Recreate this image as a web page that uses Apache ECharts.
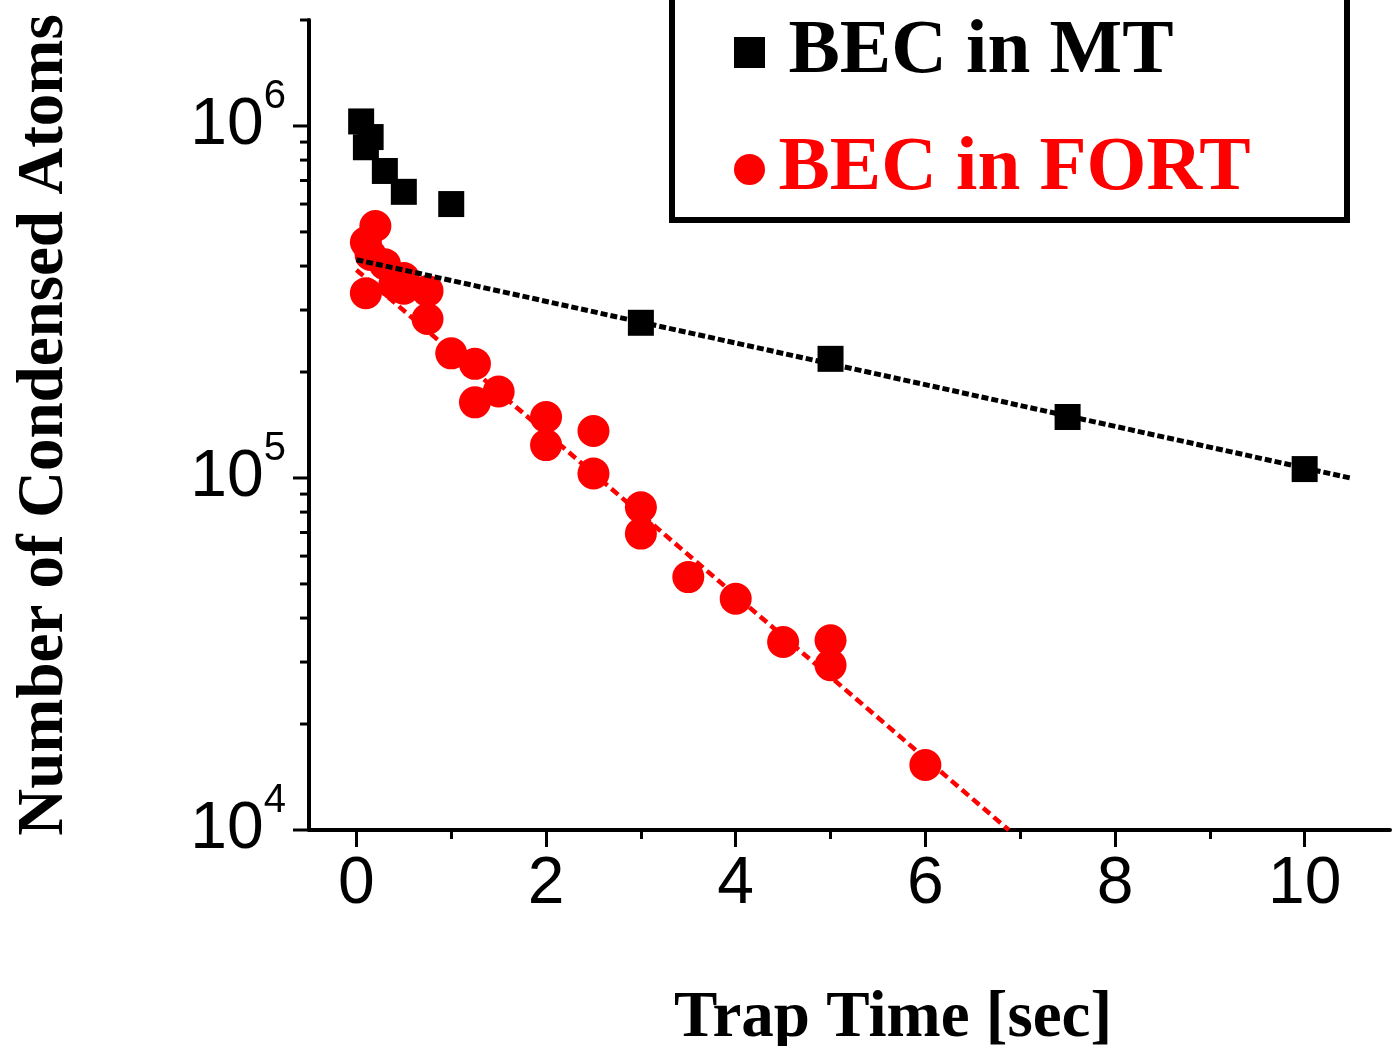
<!DOCTYPE html>
<html>
<head>
<meta charset="utf-8">
<title>Condensed atoms vs trap time</title>
<script src="https://cdn.jsdelivr.net/npm/echarts@6/dist/echarts.min.js"></script>
<style>
  html, body { margin: 0; padding: 0; background: #fff; }
  #main { width: 1393px; height: 1046px; }
</style>
</head>
<body>
<div id="main"></div>
<script>
// BEC in magnetic trap (squares)
const mtTime  = [0.05, 0.1, 0.15, 0.3, 0.5, 1, 3, 5, 7.5, 10];
const mtAtoms = [1.03e6, 8.7e5, 9.3e5, 7.45e5, 6.5e5, 6.0e5, 2.76e5, 2.18e5, 1.49e5, 1.06e5];

// BEC in FORT (circles)
const fortTime  = [0.1, 0.2, 0.15, 0.3, 0.1, 0.4, 0.5, 0.5, 0.75, 0.75, 1.0, 1.25, 1.25, 1.5,
                   2, 2, 2.5, 2.5, 3, 3, 3.5, 4, 4.5, 5, 5, 6];
const fortAtoms = [4.67e5, 5.2e5, 4.3e5, 4.05e5, 3.35e5, 3.55e5, 3.7e5, 3.45e5, 3.4e5, 2.83e5,
                   2.26e5, 2.11e5, 1.64e5, 1.76e5, 1.49e5, 1.24e5, 1.36e5, 1.03e5, 8.26e4, 6.95e4,
                   5.23e4, 4.54e4, 3.42e4, 3.46e4, 2.94e4, 1.53e4];

// exponential fits (straight on the log axis) - end points
const mtFitTime    = [0, 10.48];
const mtFitAtoms   = [4.17e5, 1.0e5];
const fortFitTime  = [0, 6.88];
const fortFitAtoms = [3.9e5, 1.0e4];

// ticks
const xMajorTicks = [0, 2, 4, 6, 8, 10];
const xMinorTicks = [1, 3, 5, 7, 9];
const yMajorTicks = [1e4, 1e5, 1e6];
const yMinorTicks = [2e4, 3e4, 4e4, 5e4, 6e4, 7e4, 8e4, 9e4,
                     2e5, 3e5, 4e5, 5e5, 6e5, 7e5, 8e5, 9e5, 2e6];

const xMin = -0.5, xMax = 10.9;
const zip = (a, b) => a.map((v, i) => [v, b[i]]);

const sansFont = 'Liberation Sans';
const serifFont = 'Liberation Serif';

const chart = echarts.init(document.getElementById('main'));

chart.setOption({
  animation: false,
  backgroundColor: '#fff',
  grid: { left: 309, right: 3, top: 20, bottom: 216, outerBoundsMode: 'none', containLabel: false },
  xAxis: [
    {
      type: 'value', min: xMin, max: xMax, position: 'bottom',
      name: 'Trap Time [sec]', nameLocation: 'middle', nameGap: 157,
      nameTextStyle: { fontFamily: serifFont, fontWeight: 'bold', fontSize: 65, color: '#000', padding: [0, 0, 0, 87] },
      axisLine: { onZero: false, lineStyle: { color: '#000', width: 4 } },
      axisTick: { customValues: xMajorTicks, length: 17, lineStyle: { color: '#000', width: 3 } },
      axisLabel: { customValues: xMajorTicks, margin: 22, fontFamily: sansFont, fontSize: 66, color: '#000' },
      splitLine: { show: false }
    },
    {
      // minor ticks only
      type: 'value', min: xMin, max: xMax, position: 'bottom',
      axisLine: { show: false, onZero: false },
      axisTick: { customValues: xMinorTicks, length: 9, lineStyle: { color: '#000', width: 3 } },
      axisLabel: { show: false },
      splitLine: { show: false }
    }
  ],
  yAxis: {
    type: 'log', logBase: 10, min: 1e4, max: 2e6,
    name: 'Number of Condensed Atoms', nameLocation: 'middle', nameGap: 231,
    nameTextStyle: { fontFamily: serifFont, fontWeight: 'bold', fontSize: 65, color: '#000' },
    axisLine: { onZero: false, lineStyle: { color: '#000', width: 4 } },
    axisTick: { show: false },
    splitLine: { show: false },
    axisLabel: {
      margin: 23,
      formatter: function (v) {
        const e = Math.log10(v);
        const r = Math.round(e);
        if (Math.abs(e - r) > 1e-6) return '';
        return '{b|10}{sup|' + r + '}';
      },
      rich: {
        b: { fontFamily: sansFont, fontSize: 66, color: '#000' },
        sup: { fontFamily: sansFont, fontSize: 40, color: '#000', padding: [0, 0, 58, 0] }
      }
    }
  },
  legend: {
    orient: 'vertical', left: 734, top: 14, padding: 0,
    itemWidth: 32, itemHeight: 31, itemGap: 40,
    symbolKeepAspect: true, selectedMode: false,
    textStyle: { fontFamily: serifFont, fontWeight: 'bold', fontSize: 77 },
    data: [
      { name: 'BEC in MT', icon: 'path://M0,0h10v10h-10z', textStyle: { color: '#000', padding: [0, 0, 0, 18] } },
      { name: 'BEC in FORT', icon: 'circle', textStyle: { color: '#ff0000', padding: [0, 0, 0, 8] } }
    ]
  },
  graphic: [
    {
      type: 'rect', z: 0,
      shape: { x: 672, y: -20, width: 675, height: 240 },
      style: { fill: 'none', stroke: '#000', lineWidth: 6 }
    }
  ],
  series: [
    {
      name: 'yTicks', type: 'custom', coordinateSystem: 'cartesian2d',
      silent: true, clip: false, z: 1,
      data: yMajorTicks.map(v => [xMin, v, 1]).concat(yMinorTicks.map(v => [xMin, v, 0])),
      renderItem: function (params, api) {
        const p = api.coord([api.value(0), api.value(1)]);
        const len = api.value(2) ? 16 : 9;
        return {
          type: 'line',
          shape: { x1: p[0] - len, y1: p[1], x2: p[0], y2: p[1] },
          style: { stroke: '#000', lineWidth: 3 }
        };
      }
    },
    {
      name: 'BEC in FORT', type: 'scatter', symbol: 'circle', symbolSize: 32,
      itemStyle: { color: '#ff0000', opacity: 1 },
      data: zip(fortTime, fortAtoms), z: 2
    },
    {
      name: 'FORT fit', type: 'line', symbol: 'none', z: 3,
      lineStyle: { color: '#ff0000', width: 4.5, type: [9, 5] },
      data: zip(fortFitTime, fortFitAtoms)
    },
    {
      name: 'MT fit', type: 'line', symbol: 'none', z: 4,
      lineStyle: { color: '#000', width: 5, type: [7, 3] },
      data: zip(mtFitTime, mtFitAtoms)
    },
    {
      name: 'BEC in MT', type: 'scatter', symbol: 'rect', symbolSize: 26,
      itemStyle: { color: '#000', opacity: 1 },
      data: zip(mtTime, mtAtoms), z: 5
    }
  ]
});
</script>
</body>
</html>
